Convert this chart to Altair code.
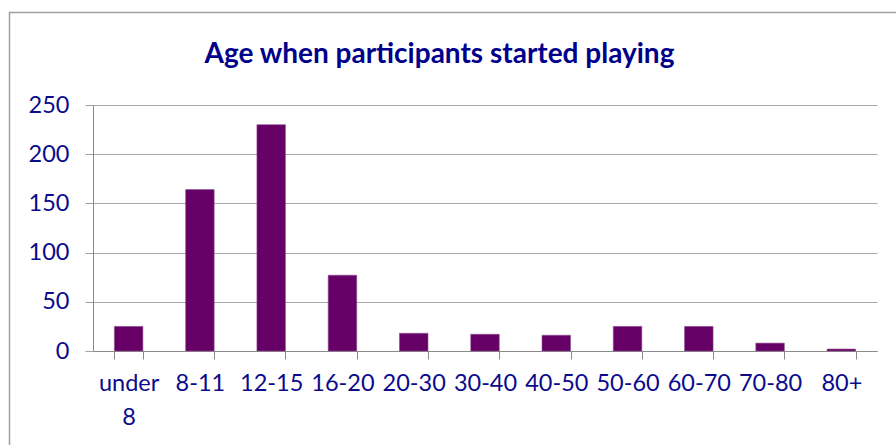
import altair as alt
import pandas as pd

categories = ["under 8", "8-11", "12-15", "16-20", "20-30", "30-40", "40-50",
              "50-60", "60-70", "70-80", "80+"]
counts = [25, 164, 230, 77, 18, 17, 16, 25, 25, 8, 2]
y_ticks = [0, 50, 100, 150, 200, 250]
title_text = ["Age when participants started playing"]

df = pd.DataFrame({"age": categories, "count": counts})

NAVY = "#0b0b8c"
FONT = "Lato"

bars = alt.Chart(df).mark_bar(color="#660066", stroke="#8c4d8c", strokeWidth=0.6).encode(
    x=alt.X("age:N", sort=categories,
            scale=alt.Scale(paddingInner=0.6, paddingOuter=0.3),
            axis=alt.Axis(title=None, labelAngle=0, tickBand="extent",
                          tickSize=8, tickColor="#8a8a8a", domainColor="#8a8a8a",
                          labelFont=FONT, labelFontSize=23.5, labelColor=NAVY,
                          labelPadding=12, labelLineHeight=34, grid=False,
                          labelExpr="datum.value == 'under 8' ? ['under', '8'] : datum.value")),
    y=alt.Y("count:Q",
            scale=alt.Scale(domain=[0, 250], nice=False),
            axis=alt.Axis(title=None, values=y_ticks, tickSize=8, tickColor="#a0a0a0",
                          domainColor="#8a8a8a", gridColor="#a8a8a8",
                          labelFont=FONT, labelFontSize=23.5, labelColor=NAVY,
                          labelPadding=16)),
)

border = alt.Chart(pd.DataFrame({"a": [0]})).mark_rect(
    filled=False, stroke="#a0a0a0", strokeWidth=1.5
).encode(
    x=alt.value(-83.5), x2=alt.value(900),
    y=alt.value(-92.5), y2=alt.value(400),
)

title = alt.Chart(pd.DataFrame({"t": title_text})).mark_text(
    font=FONT, fontSize=28, fontWeight="bold", color="#00008b",
    align="center", baseline="alphabetic"
).encode(
    text="t:N", x=alt.value(439.5 - 93), y=alt.value(63 - 105),
)

chart = alt.layer(border, bars, title).properties(
    width=784, height=246,
    autosize=alt.AutoSizeParams(type="none"),
    padding={"left": 93, "top": 105, "right": 19, "bottom": 94},
).configure_view(stroke=None)

chart.save("out.html", embed_options={"renderer": "svg", "actions": False})
